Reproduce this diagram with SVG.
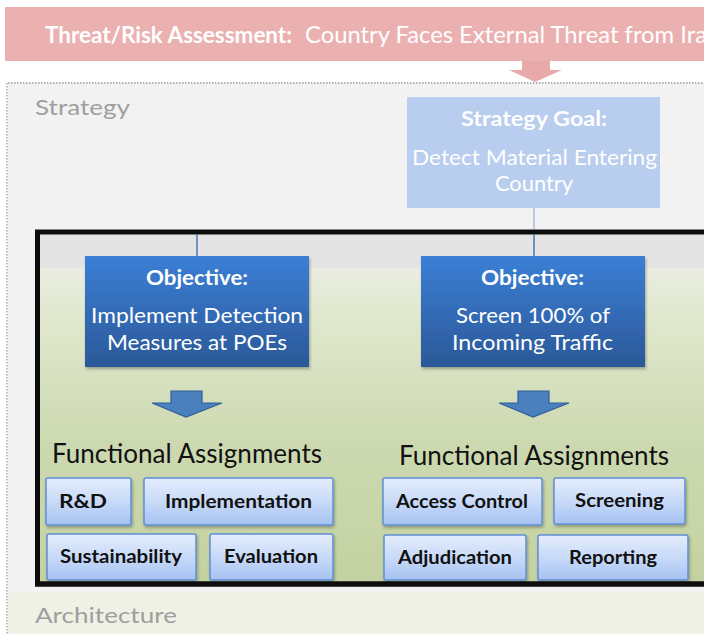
<svg xmlns="http://www.w3.org/2000/svg" width="704" height="634" viewBox="0 0 704 634">
  <defs>
    <style>
      .faded-label { font-family: Lato, "Open Sans", "Liberation Sans", sans-serif; font-size: 22px; fill: #9f9f9f; }
      .banner-text { font-family: Lato, "Open Sans", "Liberation Sans", sans-serif; font-size: 23px; fill: #ffffff; }
      .goal-text { font-family: Lato, "Open Sans", "Liberation Sans", sans-serif; fill: #ffffff; }
      .obj-head { font-family: Lato, "Open Sans", "Liberation Sans", sans-serif; font-size: 20px; font-weight: bold; fill: #ffffff; }
      .obj-body { font-family: Lato, "Open Sans", "Liberation Sans", sans-serif; font-size: 21px; fill: #ffffff; }
      .fa-head { font-family: Lato, "Open Sans", "Liberation Sans", sans-serif; font-size: 26px; fill: #111111; }
      .fn-box { fill: url(#fnFill); stroke: #5f8fd6; stroke-width: 1.5; filter: url(#softShadow); }
      .fn-text { font-family: Lato, "Open Sans", "Liberation Sans", sans-serif; font-size: 19px; font-weight: bold; fill: #111111; }
      .obj-box { fill: url(#objFill); filter: url(#softShadow); }
      .link { stroke: #4a78b0; stroke-width: 1.5; fill: none; }
      .link-faded { stroke: #a9bfdc; stroke-width: 1.5; fill: none; }
      .block-arrow { fill: #4a80be; stroke: #2f5f9a; stroke-width: 1.2; }
    </style>
    <linearGradient id="objFill" x1="0" y1="0" x2="0" y2="1">
      <stop offset="0" stop-color="#3b7fd6"/>
      <stop offset="1" stop-color="#2b5898"/>
    </linearGradient>
    <linearGradient id="fnFill" x1="0" y1="0" x2="0" y2="1">
      <stop offset="0" stop-color="#e4edfc"/>
      <stop offset="0.5" stop-color="#c8daf8"/>
      <stop offset="1" stop-color="#a6c2f2"/>
    </linearGradient>
    <linearGradient id="panelFill" x1="0" y1="0" x2="0" y2="1">
      <stop offset="0" stop-color="#f1f1f1"/>
      <stop offset="0.22" stop-color="#e2e9d0"/>
      <stop offset="0.6" stop-color="#ccd9b0"/>
      <stop offset="1" stop-color="#c4d2a1"/>
    </linearGradient>
    <filter id="softShadow" x="-10%" y="-10%" width="125%" height="130%">
      <feDropShadow dx="1" dy="2" stdDeviation="1.5" flood-color="#000000" flood-opacity="0.3"/>
    </filter>
  </defs>

  <!-- background -->
  <rect x="0" y="0" width="704" height="634" fill="#ffffff"/>

  <!-- strategy layer -->
  <g id="strategy-layer">
    <rect x="8" y="83" width="700" height="510" fill="#f2f2f2"/>
    <line x1="8" y1="83" x2="704" y2="83" stroke="#9a9a9a" stroke-width="1.5" stroke-dasharray="1.5 1.5"/>
    <line x1="7" y1="83" x2="7" y2="634" stroke="#a8a8a8" stroke-width="1.5" stroke-dasharray="1.5 1.5"/>
    <text class="faded-label" x="35" y="115" textLength="95" lengthAdjust="spacingAndGlyphs">Strategy</text>
  </g>

  <!-- architecture layer -->
  <g id="architecture-layer">
    <rect x="8" y="593" width="700" height="41" fill="#eef1e3"/>
    <text class="faded-label" x="35" y="623" textLength="142" lengthAdjust="spacingAndGlyphs">Architecture</text>
  </g>

  <!-- threat banner -->
  <g id="threat-banner">
    <rect x="5" y="7" width="705" height="54" fill="#ebb1b1"/>
    <text class="banner-text" y="43"><tspan x="45" font-weight="bold" textLength="247" lengthAdjust="spacingAndGlyphs">Threat/Risk Assessment:</tspan><tspan x="305" textLength="402" lengthAdjust="spacingAndGlyphs">Country Faces External Threat from Ira</tspan></text>
    <polygon points="522,61 550,61 550,70 562,70 535,82 509,70 522,70" fill="#e7a9a9"/>
  </g>

  <!-- strategy goal -->
  <g id="strategy-goal">
    <rect x="407" y="97" width="253" height="111" fill="#b9cdee"/>
    <text class="goal-text" x="461" y="126" font-size="21" font-weight="bold" textLength="146" lengthAdjust="spacingAndGlyphs">Strategy Goal:</text>
    <text class="goal-text" x="412" y="165" font-size="21" textLength="245" lengthAdjust="spacingAndGlyphs">Detect Material Entering</text>
    <text class="goal-text" x="495" y="191" font-size="21" textLength="78" lengthAdjust="spacingAndGlyphs">Country</text>
  </g>

  <!-- objectives panel -->
  <g id="objectives-panel">
    <rect x="37.5" y="232" width="700" height="352" fill="url(#panelFill)"/>
    <rect x="40" y="234.5" width="700" height="33.5" fill="#e4e4e4"/>
    <rect x="37.5" y="232" width="700" height="352" fill="none" stroke="#0d0d0d" stroke-width="5"/>
  </g>

  <!-- connectors -->
  <g id="connectors">
    <line class="link-faded" x1="534" y1="208" x2="534" y2="229"/>
    <line class="link" x1="534" y1="234" x2="534" y2="256"/>
    <line class="link" x1="197" y1="234" x2="197" y2="256"/>
    <polygon class="block-arrow" points="171,391 202,391 202,403 222,403 186,417 152,403 171,403"/>
    <polygon class="block-arrow" points="518,391 549,391 549,403 569,403 533,417 499,403 518,403"/>
  </g>

  <!-- objective: detection measures -->
  <g id="objective-detection">
    <rect class="obj-box" x="85" y="256" width="224" height="111"/>
    <text class="obj-head" x="146" y="285" textLength="102" lengthAdjust="spacingAndGlyphs">Objective:</text>
    <text class="obj-body" x="91" y="323" textLength="212" lengthAdjust="spacingAndGlyphs">Implement Detection</text>
    <text class="obj-body" x="107" y="350" textLength="180" lengthAdjust="spacingAndGlyphs">Measures at POEs</text>
  </g>

  <!-- objective: screening -->
  <g id="objective-screening">
    <rect class="obj-box" x="421" y="256" width="224" height="111"/>
    <text class="obj-head" x="481" y="285" textLength="103" lengthAdjust="spacingAndGlyphs">Objective:</text>
    <text class="obj-body" x="456" y="323" textLength="154" lengthAdjust="spacingAndGlyphs">Screen 100% of</text>
    <text class="obj-body" x="452" y="350" textLength="161" lengthAdjust="spacingAndGlyphs">Incoming Traffic</text>
  </g>

  <!-- functional assignments: detection -->
  <g id="fa-detection-title">
    <text class="fa-head" x="52" y="463" textLength="270" lengthAdjust="spacingAndGlyphs">Functional Assignments</text>
  </g>
  <g id="fn-rnd">
    <rect class="fn-box" x="46" y="478" width="85" height="47" rx="2"/>
    <text class="fn-text" x="59" y="508" textLength="48" lengthAdjust="spacingAndGlyphs">R&amp;D</text>
  </g>
  <g id="fn-implementation">
    <rect class="fn-box" x="144" y="478" width="189" height="47" rx="2"/>
    <text class="fn-text" x="165" y="508" textLength="147" lengthAdjust="spacingAndGlyphs">Implementation</text>
  </g>
  <g id="fn-sustainability">
    <rect class="fn-box" x="47" y="534" width="149" height="46" rx="2"/>
    <text class="fn-text" x="60" y="563" textLength="122" lengthAdjust="spacingAndGlyphs">Sustainability</text>
  </g>
  <g id="fn-evaluation">
    <rect class="fn-box" x="210" y="534" width="123" height="46" rx="2"/>
    <text class="fn-text" x="224" y="563" textLength="94" lengthAdjust="spacingAndGlyphs">Evaluation</text>
  </g>

  <!-- functional assignments: screening -->
  <g id="fa-screening-title">
    <text class="fa-head" x="399" y="465" textLength="270" lengthAdjust="spacingAndGlyphs">Functional Assignments</text>
  </g>
  <g id="fn-access-control">
    <rect class="fn-box" x="383" y="478" width="159" height="47" rx="2"/>
    <text class="fn-text" x="396" y="508" textLength="132" lengthAdjust="spacingAndGlyphs">Access Control</text>
  </g>
  <g id="fn-screening">
    <rect class="fn-box" x="554" y="478" width="131" height="46" rx="2"/>
    <text class="fn-text" x="575" y="507" textLength="89" lengthAdjust="spacingAndGlyphs">Screening</text>
  </g>
  <g id="fn-adjudication">
    <rect class="fn-box" x="384" y="535" width="142" height="45" rx="2"/>
    <text class="fn-text" x="398" y="564" textLength="114" lengthAdjust="spacingAndGlyphs">Adjudication</text>
  </g>
  <g id="fn-reporting">
    <rect class="fn-box" x="538" y="535" width="150" height="45" rx="2"/>
    <text class="fn-text" x="569" y="564" textLength="88" lengthAdjust="spacingAndGlyphs">Reporting</text>
  </g>

  <!-- panel border redrawn over the lowest boxes -->
  <g id="objectives-panel-edge">
    <line x1="35" y1="584" x2="704" y2="584" stroke="#0d0d0d" stroke-width="5"/>
  </g>
</svg>
